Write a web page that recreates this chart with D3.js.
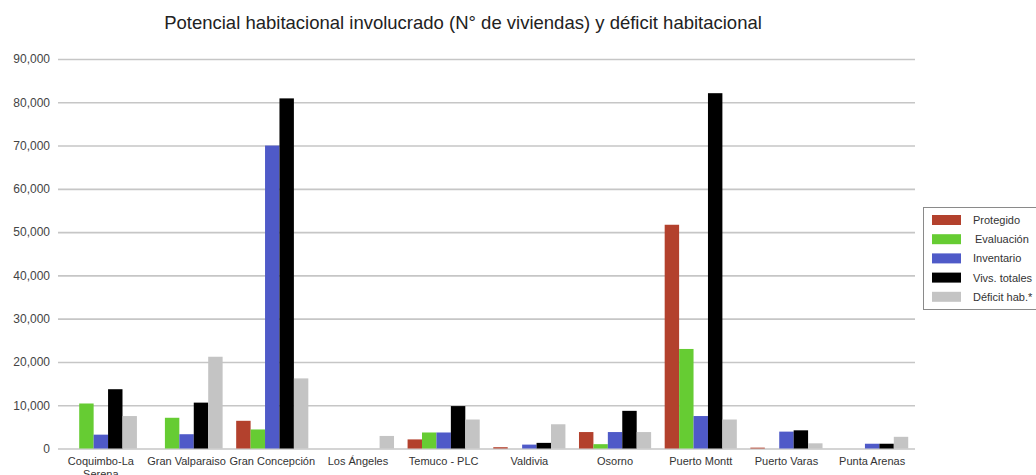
<!DOCTYPE html>
<html>
<head>
<meta charset="utf-8">
<script src="https://cdn.jsdelivr.net/npm/d3@7"></script>
<style>
  body { margin: 0; background: #fff; }
  svg { display: block; font-family: "Liberation Sans", Arial, sans-serif; }
</style>
</head>
<body>
<svg id="chart" width="1036" height="475"></svg>
<script>
  // Chart data
  const categories = ["Coquimbo-La Serena", "Gran Valparaiso", "Gran Concepción", "Los Ángeles",
    "Temuco - PLC", "Valdivia", "Osorno", "Puerto Montt", "Puerto Varas", "Punta Arenas"];
  const seriesNames = ["Protegido", "Evaluación", "Inventario", "Vivs. totales", "Déficit hab.*"];
  const seriesColors = ["#b3412d", "#66cc33", "#4f5ac8", "#000000", "#c4c4c4"];

  const protegido = [0, 0, 6400, 0, 2100, 300, 3800, 51700, 200, 0];
  const evaluacion = [10400, 7100, 4400, 0, 3700, 0, 1000, 23000, 0, 0];
  const inventario = [3200, 3300, 70000, 0, 3700, 900, 3800, 7500, 3900, 1100];
  const vivsTotales = [13700, 10600, 80900, 0, 9800, 1300, 8700, 82100, 4200, 1100];
  const deficit = [7500, 21200, 16200, 2900, 6700, 5600, 3800, 6700, 1200, 2700];

  const yTicks = [0, 10000, 20000, 30000, 40000, 50000, 60000, 70000, 80000, 90000];

  const seriesValues = [protegido, evaluacion, inventario, vivsTotales, deficit];

  const svg = d3.select("#chart");
  const plot = { left: 58, right: 915, top: 59, bottom: 448.5 };

  const x0 = d3.scaleBand().domain(categories).range([plot.left, plot.right]);
  const x1 = d3.scaleBand().domain(seriesNames).range([0, x0.bandwidth()]).paddingOuter(0.47);
  const y = d3.scaleLinear().domain([0, 90000]).range([plot.bottom, plot.top]);

  // title
  svg.append("text")
    .attr("x", 463).attr("y", 29)
    .attr("text-anchor", "middle")
    .attr("font-size", 18.5)
    .attr("fill", "#222")
    .text("Potencial habitacional involucrado (N° de viviendas) y déficit habitacional");

  // gridlines + tick labels
  const yAxis = d3.axisLeft(y).tickValues(yTicks).tickSize(-(plot.right - plot.left))
    .tickFormat(d3.format(",")).tickPadding(8);
  const gy = svg.append("g").attr("transform", `translate(${plot.left},0)`).call(yAxis);
  gy.select(".domain").remove();
  gy.selectAll(".tick line").attr("stroke", "#c6c6c6").attr("stroke-width", 1.6);
  gy.selectAll(".tick text").attr("font-size", 12).attr("fill", "#444")
    .attr("font-family", "Liberation Sans, Arial, sans-serif");

  // bars
  const groups = svg.append("g").selectAll("g")
    .data(categories)
    .join("g")
    .attr("transform", (d) => `translate(${x0(d)},0)`);

  groups.selectAll("rect")
    .data((d, i) => seriesNames.map((s, j) => ({ s: s, v: seriesValues[j][i], c: seriesColors[j] })))
    .join("rect")
    .attr("x", (d) => x1(d.s))
    .attr("width", x1.bandwidth())
    .attr("y", (d) => y(d.v))
    .attr("height", (d) => y(0) - y(d.v))
    .attr("fill", (d) => d.c);

  // category labels
  const xAxis = d3.axisBottom(x0).tickSize(0).tickPadding(9);
  const gx = svg.append("g").attr("transform", `translate(0,${plot.bottom})`).call(xAxis);
  gx.select(".domain").remove();
  gx.selectAll(".tick text")
    .attr("font-size", 11)
    .attr("fill", "#333")
    .attr("font-family", "Liberation Sans, Arial, sans-serif")
    .each(function (d) {
      // wrap the long first label the way the source does
      if (d === "Coquimbo-La Serena") {
        const t = d3.select(this);
        t.text(null);
        t.append("tspan").attr("x", 0).attr("dy", "0.71em").text("Coquimbo-La");
        t.append("tspan").attr("x", 0).attr("dy", "1.15em").text("Serena");
      }
    });

  // legend
  const lg = svg.append("g");
  lg.append("rect")
    .attr("x", 923.5).attr("y", 207.5)
    .attr("width", 120).attr("height", 102)
    .attr("fill", "#fff").attr("stroke", "#8a8a8a").attr("stroke-width", 1);
  const items = lg.selectAll("g.item")
    .data(seriesNames)
    .join("g")
    .attr("class", "item")
    .attr("transform", (d, i) => `translate(932,${220 + i * 19.2})`);
  items.append("rect")
    .attr("x", 0).attr("y", -5).attr("width", 29).attr("height", 10)
    .attr("fill", (d, i) => seriesColors[i]);
  items.append("text")
    .attr("x", (d, i) => (i === 1 ? 43 : 41)).attr("y", 4)
    .attr("font-size", 11).attr("fill", "#333")
    .text((d) => d);
</script>
</body>
</html>
